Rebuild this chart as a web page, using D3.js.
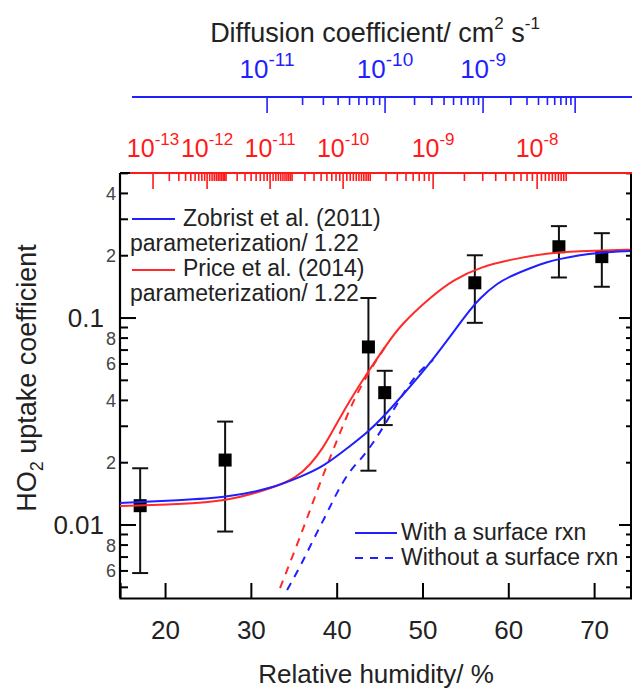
<!DOCTYPE html>
<html><head><meta charset="utf-8">
<script src="https://cdn.jsdelivr.net/npm/d3@7"></script>
<style>
html,body{margin:0;padding:0;background:#fff;}
svg{display:block;font-family:"Liberation Sans",Arial,sans-serif;}
</style></head>
<body>
<svg id="chart" width="632" height="688"></svg>
<script>
// ---------------- data ----------------
const rhMeasured    = [17.1, 27.0, 43.7, 45.6, 56.1, 65.9, 70.9];
const gammaMeasured = [0.0124, 0.0206, 0.0725, 0.0436, 0.148, 0.221, 0.198];
const gammaLow      = [0.00586, 0.0093, 0.0183, 0.0304, 0.0948, 0.157, 0.1416];
const gammaHigh     = [0.0188, 0.0316, 0.125, 0.0556, 0.201, 0.278, 0.257];

const zobristRH    = [14.75, 21.75, 26.99, 32.59, 35.73, 38.41, 41.56, 43.66, 45.64, 47.39, 51.24, 55.20, 56.71, 58.69, 60.56, 62.54, 64.52, 65.92, 68.37, 70.70, 74.20];
const zobristGamma = [0.01277, 0.0132, 0.01354, 0.01509, 0.01706, 0.01906, 0.02408, 0.02813, 0.0340, 0.04107, 0.06266, 0.1057, 0.1249, 0.1476, 0.1613, 0.1744, 0.1865, 0.1927, 0.2015, 0.2072, 0.2107];

const priceRH    = [14.75, 21.75, 26.99, 32.59, 35.35, 36.90, 38.41, 39.58, 41.56, 43.54, 45.64, 47.39, 51.24, 53.57, 56.71, 60.56, 64.52, 68.37, 72.21, 74.20];
const priceGamma = [0.01235, 0.01263, 0.01296, 0.01509, 0.01700, 0.01950, 0.02355, 0.02878, 0.04017, 0.05424, 0.07244, 0.09247, 0.1292, 0.1527, 0.1764, 0.1927, 0.2061, 0.2107, 0.2131, 0.2138];

const zobristNoSurfRH    = [34.22, 35.73, 37.25, 38.88, 40.05, 41.56, 43.08, 44.71, 46.22, 47.97, 49.72, 51.24];
const zobristNoSurfGamma = [0.004853, 0.006266, 0.008462, 0.01143, 0.01443, 0.01844, 0.0213, 0.0266, 0.0336, 0.0449, 0.05609, 0.06266];

const priceNoSurfRH    = [33.40, 35.38, 36.90, 38.41, 40.05, 41.56, 42.73, 43.89, 45.64];
const priceNoSurfGamma = [0.004962, 0.008005, 0.01182, 0.01744, 0.02574, 0.03674, 0.0459, 0.05609, 0.07244];

const xTicks = [20, 30, 40, 50, 60, 70];
const yMajorTicks = [0.01, 0.1];
const yMinorMultipliers = [2, 3, 4, 5, 6, 7, 8, 9];
const yMinorLabeled = [2, 4, 6, 8];

// top axes: decade exponent -> RH where that diffusion coefficient is reached
const blueDecades   = [-11, -10, -9, -8];
const blueDecadeRH  = [31.89, 45.64, 57.06, 67.79];
const blueLabeled   = [-11, -10, -9];
const redDecades    = [-13, -12, -11, -10, -9, -8, -7];
const redDecadeRH   = [18.60, 24.9, 32.24, 40.75, 51.24, 63.36, 75.5];
const redLabeled    = [-13, -12, -11, -10, -9, -8];
const stdMinor  = [2, 3, 4, 5, 6, 7, 8, 9];
const fineMinor = [1.1, 1.2, 1.3, 1.4, 1.5, 1.6, 1.7, 1.8, 1.9, 2, 3, 4, 5, 6, 7, 8, 9];
const leadMinor = [1.1, 1.2, 1.3, 1.4, 1.5, 1.6, 1.7, 1.8, 1.9];
const redMinorSets = {"-13": stdMinor, "-12": fineMinor, "-11": fineMinor, "-10": fineMinor, "-9": stdMinor, "-8": leadMinor};

// ---------------- layout ----------------
const W = 632, H = 688;
const m = {left: 120, right: 1, top: 173, bottom: 90};
const iw = W - m.left - m.right, ih = H - m.top - m.bottom;
const BLUE = "#1f1fff", RED = "#ff2a2a", INK = "#222";

const svg = d3.select("#chart");
const x = d3.scaleLinear().domain([14.75, 74.3]).range([m.left, m.left + iw]);
const y = d3.scaleLog().domain([0.00444, 0.502]).range([m.top + ih, m.top]);

svg.append("defs").append("clipPath").attr("id", "clip")
  .append("rect").attr("x", m.left).attr("y", m.top).attr("width", iw).attr("height", ih);

// ---------------- axes ----------------
const xAxis = d3.axisBottom(x).tickValues(xTicks).tickSize(-15).tickPadding(23).tickFormat(d3.format("d"));
const gx = svg.append("g").attr("transform", `translate(0,${m.top + ih})`).call(xAxis);
gx.select(".domain").attr("stroke", "#000").attr("stroke-width", 2.2);
gx.selectAll(".tick line").attr("stroke", "#000").attr("stroke-width", 2);
gx.selectAll(".tick text").attr("font-size", 26).attr("fill", INK).attr("font-family", "Liberation Sans, Arial");

const yMinor = [];
[0.001, 0.01, 0.1].forEach(dec => yMinorMultipliers.forEach(k => {
  const v = k * dec;
  if (v >= y.domain()[0] && v <= y.domain()[1]) yMinor.push({v, k});
}));
const gy = svg.append("g");
gy.append("line").attr("x1", m.left).attr("x2", m.left).attr("y1", m.top).attr("y2", m.top + ih)
  .attr("stroke", "#000").attr("stroke-width", 2.2);
gy.selectAll("line.maj").data(yMajorTicks).join("line").attr("class", "maj")
  .attr("x1", m.left).attr("x2", m.left + 16).attr("y1", d => y(d)).attr("y2", d => y(d))
  .attr("stroke", "#000").attr("stroke-width", 2);
gy.selectAll("line.min").data(yMinor).join("line").attr("class", "min")
  .attr("x1", m.left).attr("x2", m.left + 8).attr("y1", d => y(d.v)).attr("y2", d => y(d.v))
  .attr("stroke", "#000").attr("stroke-width", 2);
gy.selectAll("text.maj").data(yMajorTicks).join("text").attr("class", "maj")
  .attr("x", m.left - 16).attr("y", d => y(d)).attr("dy", "0.36em").attr("text-anchor", "end")
  .attr("font-size", 26).attr("fill", INK).text(d => d3.format("")(d));
gy.selectAll("text.min").data(yMinor.filter(d => yMinorLabeled.includes(d.k))).join("text").attr("class", "min")
  .attr("x", m.left - 4).attr("y", d => y(d.v)).attr("dy", "0.36em").attr("text-anchor", "end")
  .attr("font-size", 18).attr("fill", "#444").text(d => d.k);

const gr = svg.append("g");
const xr = m.left + iw;
gr.append("line").attr("x1", xr).attr("x2", xr).attr("y1", m.top).attr("y2", m.top + ih).attr("stroke", "#000").attr("stroke-width", 2);
gr.selectAll("line.maj").data(yMajorTicks).join("line")
  .attr("x1", xr).attr("x2", xr - 12).attr("y1", d => y(d)).attr("y2", d => y(d)).attr("stroke", "#000").attr("stroke-width", 2);
gr.selectAll("line.min").data(yMinor).join("line")
  .attr("x1", xr).attr("x2", xr - 5).attr("y1", d => y(d.v)).attr("y2", d => y(d.v)).attr("stroke", "#000").attr("stroke-width", 2);

svg.append("line").attr("x1", m.left).attr("x2", xr).attr("y1", m.top).attr("y2", m.top).attr("stroke", "#000").attr("stroke-width", 2.2);

// ---------------- top diffusion-coefficient axes ----------------
function drawDAxis(opts) {
  const map = d3.scaleLinear().domain(opts.decades).range(opts.decadeRH);
  const g = svg.append("g");
  const ticks = [];
  opts.decades.forEach(dec => {
    ticks.push({lg: dec, major: true});
    opts.minorSets(dec).forEach(k => ticks.push({lg: dec + Math.log10(k), major: false}));
  });
  const vis = ticks.filter(t => {
    const px = x(map(t.lg));
    return px >= opts.x0 && px <= xr && t.lg <= opts.maxLg;
  });
  g.append("line").attr("x1", opts.x0).attr("x2", W).attr("y1", opts.y0).attr("y2", opts.y0)
    .attr("stroke", opts.color).attr("stroke-width", 2);
  g.selectAll("line.t").data(vis).join("line").attr("class", "t")
    .attr("x1", d => x(map(d.lg))).attr("x2", d => x(map(d.lg)))
    .attr("y1", opts.y0).attr("y2", d => opts.y0 + (d.major ? 16 : 8))
    .attr("stroke", opts.color).attr("stroke-width", 1.6);
  const lab = g.selectAll("text.l").data(opts.labeled).join("text").attr("class", "l")
    .attr("x", d => x(map(d))).attr("y", opts.labelY).attr("text-anchor", "middle")
    .attr("fill", opts.color).attr("font-size", opts.fs);
  lab.append("tspan").text("10");
  lab.append("tspan").attr("dy", -12).attr("font-size", opts.efs).text(d => "-" + Math.abs(d));
}
drawDAxis({decades: blueDecades, decadeRH: blueDecadeRH, labeled: blueLabeled, color: BLUE, fs: 26, efs: 19,
  y0: 97, labelY: 78, x0: 132, maxLg: -8, minorSets: dec => dec < -8 ? stdMinor : []});
drawDAxis({decades: redDecades, decadeRH: redDecadeRH, labeled: redLabeled, color: "#ff1a1a", fs: 25, efs: 17,
  y0: m.top, labelY: 157, x0: 130, maxLg: -7.7, minorSets: dec => redMinorSets[String(dec)] || []});

const tt = svg.append("text").attr("x", 375).attr("y", 42).attr("text-anchor", "middle")
  .attr("font-size", 27).attr("fill", INK);
tt.append("tspan").text("Diffusion coefficient/ cm");
tt.append("tspan").attr("dy", -13).attr("font-size", 17).text("2");
tt.append("tspan").attr("dy", 13).text(" s");
tt.append("tspan").attr("dy", -13).attr("font-size", 17).text("-1");

svg.append("text").attr("x", 376).attr("y", 683).attr("text-anchor", "middle")
  .attr("font-size", 26).attr("fill", INK).text("Relative humidity/ %");
const yl = svg.append("text").attr("transform", "translate(36,378) rotate(-90)").attr("text-anchor", "middle")
  .attr("font-size", 27).attr("fill", INK);
yl.append("tspan").text("HO");
yl.append("tspan").attr("dy", 7).attr("font-size", 18).text("2");
yl.append("tspan").attr("dy", -7).text(" uptake coefficient");

// ---------------- measured points ----------------
const pts = rhMeasured.map((r, i) => ({r, g: gammaMeasured[i], lo: gammaLow[i], hi: gammaHigh[i]}));
const gp = svg.append("g");
gp.selectAll("line.eb").data(pts).join("line").attr("class", "eb")
  .attr("x1", d => x(d.r)).attr("x2", d => x(d.r)).attr("y1", d => y(d.lo)).attr("y2", d => y(d.hi))
  .attr("stroke", "#111").attr("stroke-width", 2);
["lo", "hi"].forEach(k => gp.selectAll("line.cap" + k).data(pts).join("line").attr("class", "cap" + k)
  .attr("x1", d => x(d.r) - 8).attr("x2", d => x(d.r) + 8).attr("y1", d => y(d[k])).attr("y2", d => y(d[k]))
  .attr("stroke", "#111").attr("stroke-width", 2));
gp.selectAll("rect").data(pts).join("rect")
  .attr("x", d => x(d.r) - 6.5).attr("y", d => y(d.g) - 6.5).attr("width", 13).attr("height", 13).attr("fill", "#000");

// ---------------- model curves ----------------
const line = d3.line().x(d => x(d[0])).y(d => y(d[1])).curve(d3.curveBasis);
const gc = svg.append("g").attr("clip-path", "url(#clip)");
function curve(rh, gm, color, dashed) {
  gc.append("path").datum(rh.map((r, i) => [r, gm[i]])).attr("d", line)
    .attr("fill", "none").attr("stroke", color).attr("stroke-width", 2)
    .attr("stroke-dasharray", dashed ? "8,7" : null);
}
curve(priceNoSurfRH, priceNoSurfGamma, RED, true);
curve(zobristNoSurfRH, zobristNoSurfGamma, BLUE, true);
curve(priceRH, priceGamma, RED, false);
curve(zobristRH, zobristGamma, BLUE, false);

// ---------------- legends ----------------
const lg = svg.append("g").attr("font-size", 23).attr("fill", INK);
lg.append("line").attr("x1", 132).attr("x2", 175).attr("y1", 219).attr("y2", 219).attr("stroke", BLUE).attr("stroke-width", 2);
lg.append("text").attr("x", 183).attr("y", 226).text("Zobrist et al. (2011)");
lg.append("text").attr("x", 130).attr("y", 251).text("parameterization/ 1.22");
lg.append("line").attr("x1", 132).attr("x2", 175).attr("y1", 270).attr("y2", 270).attr("stroke", RED).attr("stroke-width", 2);
lg.append("text").attr("x", 183).attr("y", 276).text("Price et al. (2014)");
lg.append("text").attr("x", 130).attr("y", 301).text("parameterization/ 1.22");

lg.append("line").attr("x1", 355).attr("x2", 397).attr("y1", 533).attr("y2", 533).attr("stroke", BLUE).attr("stroke-width", 2);
lg.append("text").attr("x", 401).attr("y", 540).text("With a surface rxn");
lg.append("line").attr("x1", 355).attr("x2", 397).attr("y1", 558).attr("y2", 558).attr("stroke", BLUE).attr("stroke-width", 2).attr("stroke-dasharray", "8,7");
lg.append("text").attr("x", 401).attr("y", 565).text("Without a surface rxn");
</script>
</body></html>
